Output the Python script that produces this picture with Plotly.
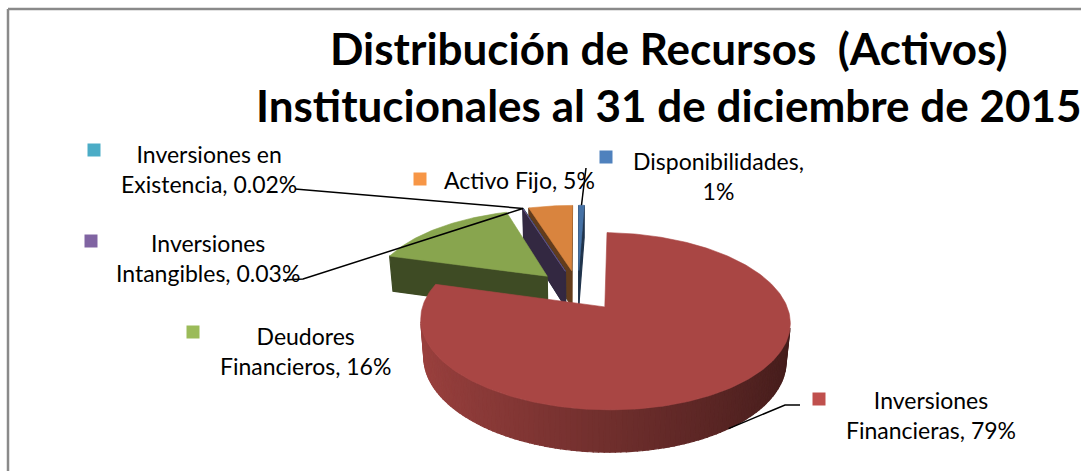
import numpy as np
import plotly.graph_objects as go

# ---------------- data ----------------
labels = ["Disponibilidades", "Inversiones Financieras", "Deudores Financieros",
          "Inversiones Intangibles", "Inversiones en Existencia", "Activo Fijo"]
values = [0.6, 78.8, 15.8, 0.03, 0.02, 4.75]
colors = ["#4F81BD", "#C0504D", "#9BBB59", "#8064A2", "#4BACC6", "#F79646"]
title_lines = ["Distribución de Recursos \u00a0(Activos)",
               "Institucionales al 31 de diciembre de 2015"]
# number of words kept on the first line of each data label
first_line_words = [1, 1, 1, 1, 2, 3]

# ---------------- layout / style ----------------
W, HGT = 1081, 471
FONT = "Lato, Carlito, Calibri, sans-serif"

# label block centres, key squares, leader-line label ends (pixels)
label_pos = [(718, 176), (931, 415), (305, 351), (208, 258), (209, 169), (519, 180)]
key_pos = [(606, 157), (819, 399), (193, 332), (91, 241), (94, 150), (420, 179)]
leader_end = [[(586, 168)], [(785, 405), (800, 405)], None,
              [(303, 279), (283, 280)], [(295, 189)], None]

# pseudo-3D projection parameters
CX, CY = 578.0, 290.0
K = 176.6
PHI = np.radians(27.3)
DIST = 5.7
DEPTH = 0.239
EXPLODE = 0.25
sP, cP = np.sin(PHI), np.cos(PHI)
CAM = np.array([0.0, -DIST * cP, DIST * sP])


def proj(u, v, z):
    u = np.asarray(u, float)
    v = np.asarray(v, float)
    z = np.asarray(z, float) * np.ones_like(u)
    w = 1 + (v * cP - z * sP) / DIST
    return CX + K * u / w, CY - K * (v * sP + z * cP) / w


def shade(hexcol, f):
    r, g, b = (int(hexcol[k:k + 2], 16) for k in (1, 3, 5))
    return "rgb(%d,%d,%d)" % tuple(min(255, max(0, round(ch * f))) for ch in (r, g, b))


vals = np.array(values, float)
frac = vals / vals.sum()
ang_end = np.cumsum(frac) * 2 * np.pi
ang_start = ang_end - frac * 2 * np.pi
mid = (ang_start + ang_end) / 2
off_u = EXPLODE * np.sin(mid)
off_v = EXPLODE * np.cos(mid)

fig = go.Figure()


def poly(xs, ys, color, lw=0.8):
    xs = np.append(xs, xs[0])
    ys = np.append(ys, ys[0])
    fig.add_trace(go.Scatter(x=xs, y=ys, mode="lines", fill="toself",
                             fillcolor=color, line=dict(color=color, width=lw),
                             hoverinfo="skip", showlegend=False))


order = np.argsort(-off_v)  # back slices first
for i in order:
    a0, a1 = ang_start[i], ang_end[i]
    ou, ov = off_u[i], off_v[i]
    faces = []
    nseg = max(1, int(np.ceil((a1 - a0) / np.radians(1.5))))
    edges = np.linspace(a0, a1, nseg + 1)
    for t0, t1 in zip(edges[:-1], edges[1:]):
        tm = (t0 + t1) / 2
        n = np.array([np.sin(tm), np.cos(tm), 0.0])
        p = np.array([ou + np.sin(tm), ov + np.cos(tm), -DEPTH / 2])
        if n @ (CAM - p) > 0:
            tt = np.array([t0, t1, t1, t0])
            x, y = proj(ou + np.sin(tt), ov + np.cos(tt), [0, 0, -DEPTH, -DEPTH])
            f = 0.58 - 0.23 * np.sin(tm)
            faces.append((p[1] * cP - p[2] * sP, x, y, shade(colors[i], f)))
    for a, sign in ((a0, -1.0), (a1, 1.0)):
        n = sign * np.array([np.cos(a), -np.sin(a), 0.0])
        p = np.array([ou + 0.5 * np.sin(a), ov + 0.5 * np.cos(a), -DEPTH / 2])
        if n @ (CAM - p) > 0:
            us = [ou, ou + np.sin(a), ou + np.sin(a), ou]
            vs = [ov, ov + np.cos(a), ov + np.cos(a), ov]
            x, y = proj(us, vs, [0, 0, -DEPTH, -DEPTH])
            faces.append((p[1] * cP - p[2] * sP, x, y, shade(colors[i], 0.40)))
    faces.sort(key=lambda fc: -fc[0])
    for _, x, y, col in faces:
        poly(x, y, col, lw=1.2)
    ts = np.linspace(a0, a1, max(2, int(np.ceil((a1 - a0) / np.radians(1.0))) + 1))
    x, y = proj(np.concatenate([[ou], ou + np.sin(ts)]),
                np.concatenate([[ov], ov + np.cos(ts)]), 0.0)
    poly(x, y, shade(colors[i], 0.88), lw=0.6)

# ---------------- labels ----------------
tot = vals.sum()
annotations = []
shapes = []
for i, name in enumerate(labels):
    p = vals[i] / tot * 100
    pct = f"{p:.0f}%" if round(p) >= 1 else f"{p:.2f}%"
    words = name.split(" ")
    nfirst = first_line_words[i]
    line1 = " ".join(words[:nfirst])
    rest = " ".join(words[nfirst:])
    if rest:
        text = f"{line1}<br>{rest}, {pct}"
    elif i == 0:
        text = f"{line1},<br>{pct}"
    else:
        text = f"{line1}, {pct}"
    lx, ly = label_pos[i]
    annotations.append(dict(x=lx, y=ly, xref="x", yref="y", text=text, showarrow=False,
                            align="center", xanchor="center", yanchor="middle",
                            font=dict(family=FONT, size=23, color="#000000")))
    kx, ky = key_pos[i]
    shapes.append(dict(type="rect", xref="x", yref="y", x0=kx - 6.5, x1=kx + 6.5,
                       y0=ky - 6.5, y1=ky + 6.5, fillcolor=colors[i], line=dict(width=0)))
    if leader_end[i] is not None:
        if i == 1:
            ax, ay = proj(off_u[i] + np.sin(mid[i]), off_v[i] + np.cos(mid[i]), -DEPTH)
        else:
            ax, ay = proj(off_u[i] + np.sin(mid[i]), off_v[i] + np.cos(mid[i]), 0.0)
        pts = [(float(ax), float(ay))] + leader_end[i]
        fig.add_trace(go.Scatter(x=[q[0] for q in pts], y=[q[1] for q in pts], mode="lines",
                                 line=dict(color="#000000", width=1.5),
                                 hoverinfo="skip", showlegend=False))

# title
annotations.append(dict(x=669, y=48, xref="x", yref="y", text=f"<b>{title_lines[0]}</b>",
                        showarrow=False, xanchor="center", yanchor="middle",
                        font=dict(family=FONT, size=44, color="#000000")))
annotations.append(dict(x=669, y=105, xref="x", yref="y", text=f"<b>{title_lines[1]}</b>",
                        showarrow=False, xanchor="center", yanchor="middle",
                        font=dict(family=FONT, size=44, color="#000000")))

# chart area border (top and left edges visible)
shapes.append(dict(type="line", xref="x", yref="y", x0=8, x1=1090, y0=9, y1=9,
                   line=dict(color="#8A8A8A", width=2.5)))
shapes.append(dict(type="line", xref="x", yref="y", x0=8, x1=8, y0=9, y1=480,
                   line=dict(color="#8A8A8A", width=2.5)))

fig.update_layout(
    width=W, height=HGT, margin=dict(l=0, r=0, t=0, b=0),
    paper_bgcolor="white", plot_bgcolor="white",
    xaxis=dict(range=[0, W], visible=False, fixedrange=True),
    yaxis=dict(range=[HGT, 0], visible=False, fixedrange=True),
    annotations=annotations, shapes=shapes, showlegend=False,
)

fig.write_html("out.html", config={"displayModeBar": False},
               post_script="document.body.style.margin='0';document.body.style.overflow='hidden';")
